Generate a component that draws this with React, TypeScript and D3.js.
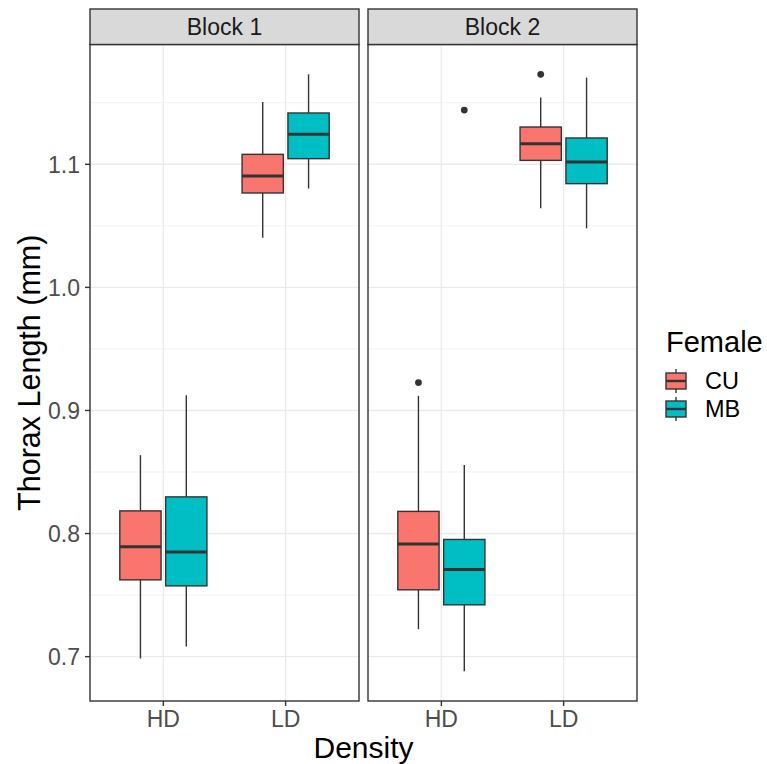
import React from "react";
import * as d3 from "d3";

// ---- Data ----
const blocks = ["Block 1", "Block 2"];
const densities = ["HD", "LD"];
const females = ["CU", "MB"];

const groupBlock = ["Block 1", "Block 1", "Block 1", "Block 1", "Block 2", "Block 2", "Block 2", "Block 2"];
const groupDensity = ["HD", "HD", "LD", "LD", "HD", "HD", "LD", "LD"];
const groupFemale = ["CU", "MB", "CU", "MB", "CU", "MB", "CU", "MB"];
const whiskerLow = [0.6985, 0.7083, 1.0404, 1.0803, 0.7223, 0.6882, 1.0643, 1.048];
const quart1 = [0.7624, 0.7575, 1.0767, 1.1046, 0.7543, 0.7421, 1.1032, 1.0843];
const medians = [0.7892, 0.7851, 1.0905, 1.1244, 0.7916, 0.7708, 1.1168, 1.1019];
const quart3 = [0.8184, 0.8298, 1.1081, 1.1417, 0.818, 0.7952, 1.1303, 1.1214];
const whiskerHigh = [0.8637, 0.9124, 1.1506, 1.1731, 0.9119, 0.8558, 1.1542, 1.1704];

const outlierBlock = ["Block 2", "Block 2", "Block 2"];
const outlierDensity = ["HD", "HD", "LD"];
const outlierFemale = ["CU", "MB", "CU"];
const outlierValue = [0.9227, 1.1441, 1.1731];

const yTicks = [0.7, 0.8, 0.9, 1.0, 1.1];
const yTickLabels = ["0.7", "0.8", "0.9", "1.0", "1.1"];
const yMinor = [0.75, 0.85, 0.95, 1.05, 1.15];

const fillColors = ["#F8766D", "#00BFC4"];

// ---- Layout ----
const W = 767;
const H = 764;
const panelTop = 44.5;
const panelBottom = 701;
const stripTop = 9;
const panelX = [90, 368];
const panelW = 269;
const FONT = "'Liberation Sans', Arial, Helvetica, sans-serif";
const dark = "#333333";
const grid = "#EBEBEB";

export default function App() {
  const allVals = [...whiskerLow, ...whiskerHigh, ...outlierValue];
  const [lo, hi] = d3.extent(allVals) as [number, number];
  const pad = (hi - lo) * 0.05;
  const y = d3.scaleLinear().domain([lo - pad, hi + pad]).range([panelBottom, panelTop]);
  const color = d3.scaleOrdinal<string, string>().domain(females).range(fillColors);
  const dodge = d3.scalePoint<string>().domain(females).range([-0.1875, 0.1875]);
  const boxW = 0.3375;

  const panels = blocks.map((b, bi) => {
    const x0 = panelX[bi];
    const x = d3.scaleLinear().domain([0.4, densities.length + 0.6]).range([x0, x0 + panelW]);
    const xc = (d: string) => x(densities.indexOf(d) + 1);
    const unit = x(1) - x(0);
    const idx = groupBlock.map((g, i) => (g === b ? i : -1)).filter((i) => i >= 0);
    const oidx = outlierBlock.map((g, i) => (g === b ? i : -1)).filter((i) => i >= 0);
    return (
      <g key={b}>
        <rect x={x0} y={panelTop} width={panelW} height={panelBottom - panelTop} fill="#fff" />
        {yMinor.map((v) => (
          <line key={"mn" + v} x1={x0} x2={x0 + panelW} y1={y(v)} y2={y(v)} stroke={grid} strokeWidth={0.7} />
        ))}
        {yTicks.map((v) => (
          <line key={"mj" + v} x1={x0} x2={x0 + panelW} y1={y(v)} y2={y(v)} stroke={grid} strokeWidth={1.4} />
        ))}
        {densities.map((d) => (
          <line key={"vx" + d} x1={xc(d)} x2={xc(d)} y1={panelTop} y2={panelBottom} stroke={grid} strokeWidth={1.4} />
        ))}
        {idx.map((i) => {
          const cx = xc(groupDensity[i]) + dodge(groupFemale[i])! * unit;
          const hw = (boxW * unit) / 2;
          return (
            <g key={"bx" + i}>
              <line x1={cx} x2={cx} y1={y(whiskerHigh[i])} y2={y(quart3[i])} stroke={dark} strokeWidth={1.4} />
              <line x1={cx} x2={cx} y1={y(quart1[i])} y2={y(whiskerLow[i])} stroke={dark} strokeWidth={1.4} />
              <rect
                x={cx - hw}
                y={y(quart3[i])}
                width={hw * 2}
                height={y(quart1[i]) - y(quart3[i])}
                fill={color(groupFemale[i])}
                stroke={dark}
                strokeWidth={1.4}
              />
              <line x1={cx - hw} x2={cx + hw} y1={y(medians[i])} y2={y(medians[i])} stroke={dark} strokeWidth={3} />
            </g>
          );
        })}
        {oidx.map((i) => (
          <circle
            key={"o" + i}
            cx={xc(outlierDensity[i]) + dodge(outlierFemale[i])! * unit}
            cy={y(outlierValue[i])}
            r={3.4}
            fill={dark}
          />
        ))}
        <rect x={x0} y={panelTop} width={panelW} height={panelBottom - panelTop} fill="none" stroke={dark} strokeWidth={1.4} />
        <rect x={x0} y={stripTop} width={panelW} height={panelTop - stripTop} fill="#D9D9D9" stroke={dark} strokeWidth={1.4} />
        <text x={x0 + panelW / 2} y={stripTop + (panelTop - stripTop) / 2 + 8.2} textAnchor="middle" fontSize={23} fill="#1A1A1A" fontFamily={FONT}>
          {b}
        </text>
        {densities.map((d) => (
          <g key={"xt" + d}>
            <line x1={xc(d)} x2={xc(d)} y1={panelBottom} y2={panelBottom + 5} stroke={dark} strokeWidth={1.4} />
            <text x={xc(d)} y={726.5} textAnchor="middle" fontSize={23} fill="#4D4D4D" fontFamily={FONT}>
              {d}
            </text>
          </g>
        ))}
      </g>
    );
  });

  return (
    <svg width={W} height={H} style={{ position: "absolute", left: 0, top: 0, display: "block", background: "#fff" }}>
      <rect x={0} y={0} width={W} height={H} fill="#fff" />
      {panels}
      {yTicks.map((v, i) => (
        <g key={"yt" + v}>
          <line x1={85} x2={90} y1={y(v)} y2={y(v)} stroke={dark} strokeWidth={1.4} />
          <text x={80} y={y(v) + 8.8} textAnchor="end" fontSize={23} fill="#4D4D4D" fontFamily={FONT}>
            {yTickLabels[i]}
          </text>
        </g>
      ))}
      <text
        transform={`translate(39.5,${(panelTop + panelBottom) / 2}) rotate(-90)`}
        textAnchor="middle"
        fontSize={30.5}
        fill="#000"
        fontFamily={FONT}
      >
        Thorax Length (mm)
      </text>
      <text x={(panelX[0] + panelX[1] + panelW) / 2} y={757.5} textAnchor="middle" fontSize={30} fill="#000" fontFamily={FONT}>
        Density
      </text>
      {/* Legend */}
      <text x={666} y={352} fontSize={29} fill="#000" fontFamily={FONT}>
        Female
      </text>
      {females.map((f, i) => {
        const cy = 381 + i * 28;
        const kx = 676;
        return (
          <g key={"lg" + f}>
            <line x1={kx} x2={kx} y1={cy - 12} y2={cy + 12} stroke={dark} strokeWidth={1.4} />
            <rect x={kx - 10} y={cy - 8} width={20} height={16} fill={color(f)} stroke={dark} strokeWidth={1.4} />
            <line x1={kx - 10} x2={kx + 10} y1={cy} y2={cy} stroke={dark} strokeWidth={2.4} />
            <text x={705} y={cy + 8.3} fontSize={23.5} fill="#000" fontFamily={FONT}>
              {f}
            </text>
          </g>
        );
      })}
    </svg>
  );
}
